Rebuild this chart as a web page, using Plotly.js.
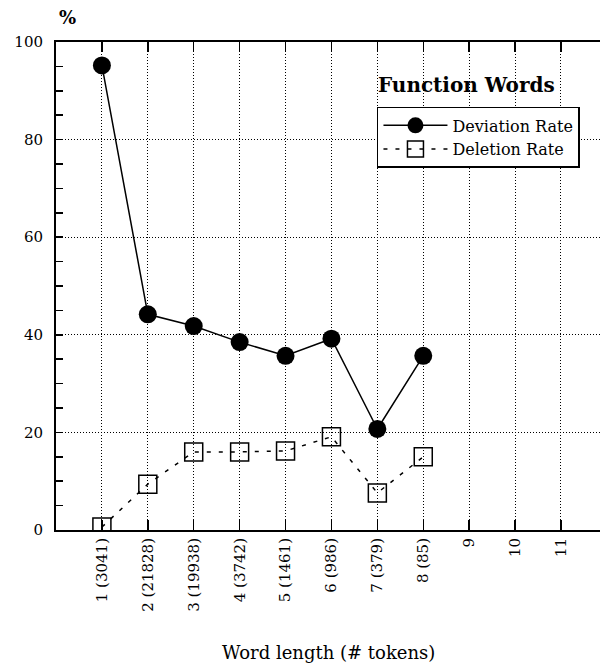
<!DOCTYPE html>
<html>
<head>
<meta charset="utf-8">
<script src="https://cdn.plot.ly/plotly-3.0.1.min.js"></script>
<style>html,body{margin:0;padding:0;background:#fff;}</style>
</head>
<body>
<div id="chart" style="width:601px;height:670px;"></div>
<script>
const categories = [1, 2, 3, 4, 5, 6, 7, 8, 9, 10, 11];
const tickLabels = ["1 (3041)", "2 (21828)", "3 (19938)", "4 (3742)", "5 (1461)", "6 (986)", "7 (379)", "8 (85)", "9", "10", "11"];
const lengthsWithData = [1, 2, 3, 4, 5, 6, 7, 8];
const deviationRate = [95.2, 44.2, 41.8, 38.5, 35.7, 39.2, 20.7, 35.7];
const deletionRate = [0.6, 9.4, 16.0, 16.0, 16.2, 19.1, 7.6, 15.0];

const serif = "DejaVu Serif, serif";

const traces = [
  {
    x: lengthsWithData, y: deviationRate, name: "Deviation Rate",
    type: "scatter", mode: "lines+markers",
    line: {color: "#000", width: 1.5},
    marker: {symbol: "circle", size: 18, color: "#000"}
  },
  {
    x: lengthsWithData, y: deletionRate, name: "Deletion Rate",
    type: "scatter", mode: "lines+markers",
    line: {color: "#000", width: 1.5, dash: "4px,8px"},
    marker: {symbol: "square-open", size: 18, color: "#000", line: {width: 1.5, color: "#000"}}
  }
];

const layout = {
  width: 601, height: 670,
  margin: {l: 56, r: 1, t: 42, b: 140},
  paper_bgcolor: "#fff", plot_bgcolor: "#fff",
  font: {family: serif, size: 14, color: "#000"},
  showlegend: true,
  legend: {
    x: 0.59, y: 0.867, xanchor: "left", yanchor: "top",
    bordercolor: "#000", borderwidth: 1.5, bgcolor: "#fff",
    font: {family: serif, size: 16, color: "#000"},
    itemwidth: 64, tracegroupgap: 0
  },
  xaxis: {
    range: [0, 11.85],
    tickmode: "array", tickvals: categories, ticktext: tickLabels,
    tickangle: -90,
    ticks: "inside", ticklen: 10, tickwidth: 1.5, tickcolor: "#000",
    showline: true, linecolor: "#000", linewidth: 2, mirror: "ticks",
    showgrid: true, gridcolor: "#000", gridwidth: 1, griddash: "1px,2px",
    zeroline: false, fixedrange: true,
    tickfont: {family: serif, size: 15, color: "#000"}
  },
  yaxis: {
    range: [0, 100],
    tickmode: "linear", tick0: 0, dtick: 20,
    ticks: "inside", ticklen: 7, tickwidth: 1.5, tickcolor: "#000",
    minor: {dtick: 5, ticks: "inside", ticklen: 7, tickwidth: 1.5, tickcolor: "#000", showgrid: false},
    showline: true, linecolor: "#000", linewidth: 2, mirror: false,
    showgrid: true, gridcolor: "#000", gridwidth: 1, griddash: "1px,2px",
    zeroline: false, fixedrange: true,
    ticklabelstandoff: 8,
    tickfont: {family: serif, size: 15, color: "#000"}
  },
  annotations: [
    {text: "<b>Function Words</b>", xref: "paper", yref: "paper",
     x: 0.588, y: 0.912, xanchor: "left", yanchor: "middle", showarrow: false,
     font: {family: serif, size: 20, color: "#000"}},
    {text: "<b>%</b>", xref: "paper", yref: "paper",
     x: 0.002, y: 1.05, xanchor: "left", yanchor: "middle", showarrow: false,
     font: {family: serif, size: 18, color: "#000"}},
    {text: "Word length (# tokens)", xref: "paper", yref: "paper",
     x: 0.5, y: -0.25, xanchor: "center", yanchor: "middle", showarrow: false,
     font: {family: serif, size: 18, color: "#000"}}
  ]
};

Plotly.newPlot("chart", traces, layout, {displayModeBar: false, staticPlot: true});
</script>
</body>
</html>
